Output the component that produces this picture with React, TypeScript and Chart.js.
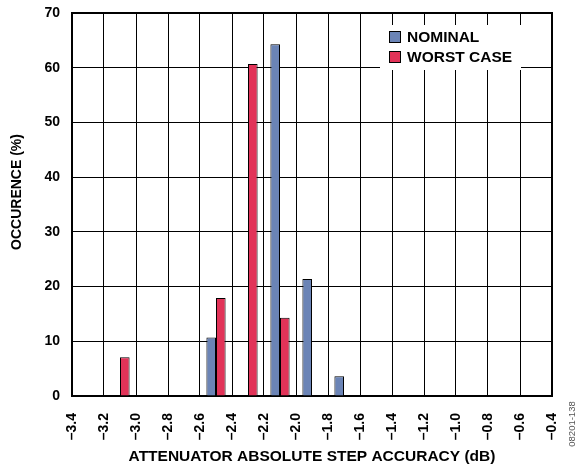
import React, { useEffect, useRef } from "react";
import { Chart, registerables } from "chart.js";

Chart.register(...registerables);

const binCenters = [-3.1, -2.5, -2.3, -2.1, -1.9, -1.7];
const nominal = [0, 10.7, 0, 64.3, 21.4, 3.6];
const worstCase = [7.1, 17.9, 60.7, 14.3, 0, 0];
const seriesNames = ["NOMINAL", "WORST CASE"];
const seriesColors = ["#6b84b6", "#e23358"];
const xTitle = "ATTENUATOR ABSOLUTE STEP ACCURACY (dB)";
const yTitle = "OCCURENCE (%)";
const figureNote = "08201-138";

const FONT = '"Liberation Sans", Arial, Helvetica, sans-serif';

const toPoints = (vals: number[]) =>
  binCenters
    .map((x, i) => ({ x, y: vals[i] }))
    .filter((p) => p.y > 0);

const fmt = (v: number) => {
  const a = Math.abs(v).toFixed(1);
  return v < -1e-9 ? "\u2013" + a : a;
};

const decorPlugin = {
  id: "decor",
  beforeDatasetsDraw(chart: any) {
    const { ctx, chartArea } = chart;
    ctx.save();
    ctx.strokeStyle = "#000";
    ctx.lineWidth = 2;
    ctx.strokeRect(
      chartArea.left,
      chartArea.top,
      chartArea.right - chartArea.left,
      chartArea.bottom - chartArea.top
    );
    ctx.restore();
  },
  afterDraw(chart: any) {
    const { ctx } = chart;
    ctx.save();
    // legend box
    ctx.fillStyle = "#fff";
    ctx.fillRect(380, 25, 141, 45);
    ctx.font = "bold 15.5px " + FONT;
    ctx.textBaseline = "middle";
    ctx.textAlign = "left";
    const ys = [37, 57];
    seriesNames.forEach((name, i) => {
      ctx.fillStyle = seriesColors[i];
      ctx.fillRect(389.5, ys[i] - 5.5, 11, 11);
      ctx.strokeStyle = "#000";
      ctx.lineWidth = 1;
      ctx.strokeRect(389.5, ys[i] - 5.5, 11, 11);
      ctx.fillStyle = "#000";
      ctx.fillText(name, 407, ys[i] + 0.5);
    });
    // y title
    ctx.save();
    ctx.translate(17, 192);
    ctx.rotate(-Math.PI / 2);
    ctx.font = "bold 14px " + FONT;
    ctx.textAlign = "center";
    ctx.textBaseline = "middle";
    ctx.fillStyle = "#000";
    ctx.fillText(yTitle, 0, 0);
    ctx.restore();
    // figure note
    ctx.save();
    ctx.translate(572, 424);
    ctx.rotate(-Math.PI / 2);
    ctx.font = "9.5px " + FONT;
    ctx.textAlign = "center";
    ctx.textBaseline = "middle";
    ctx.fillStyle = "#555";
    ctx.fillText(figureNote, 0, 0);
    ctx.restore();
    ctx.restore();
  },
};

export default function App() {
  const ref = useRef<HTMLCanvasElement | null>(null);
  useEffect(() => {
    if (!ref.current) return;
    const chart = new Chart(ref.current, {
      type: "bar",
      data: {
        datasets: [
          {
            label: seriesNames[0],
            data: toPoints(nominal) as any,
            backgroundColor: seriesColors[0],
            borderColor: "#000",
            borderWidth: 1,
          },
          {
            label: seriesNames[1],
            data: toPoints(worstCase) as any,
            backgroundColor: seriesColors[1],
            borderColor: "#000",
            borderWidth: 1,
          },
        ],
      },
      options: {
        responsive: false,
        animation: false,
        devicePixelRatio: 1,
        categoryPercentage: 0.6,
        barPercentage: 1,
        layout: { padding: { top: 13, right: 25, left: 0, bottom: 0 } },
        plugins: {
          legend: { display: false },
          tooltip: { enabled: false },
        },
        scales: {
          x: {
            type: "linear",
            min: -3.4,
            max: -0.4,
            offset: false,
            grid: { color: "#000", lineWidth: 1, drawTicks: false, offset: false },
            border: { display: true, color: "#000", width: 2 },
            ticks: {
              stepSize: 0.2,
              minRotation: 90,
              maxRotation: 90,
              padding: 17,
              color: "#000",
              font: { family: FONT, size: 14, weight: "bold" },
              callback: (v: any) => fmt(Number(v)),
            },
            title: {
              display: true,
              text: xTitle,
              color: "#000",
              font: { family: FONT, size: 15.5, weight: "bold" },
              padding: { top: 0, bottom: 4 },
            },
            afterFit: (s: any) => {
              s.height = 74;
              s.paddingLeft = 0;
              s.paddingRight = 0;
            },
          } as any,
          y: {
            min: 0,
            max: 70,
            grid: { color: "#000", lineWidth: 1, drawTicks: false },
            border: { display: true, color: "#000", width: 2 },
            ticks: {
              stepSize: 10,
              padding: 12,
              color: "#000",
              font: { family: FONT, size: 14, weight: "bold" },
            },
            afterFit: (s: any) => {
              s.width = 72;
              s.paddingTop = 0;
              s.paddingBottom = 0;
            },
          } as any,
        },
      },
      plugins: [decorPlugin],
    });
    return () => chart.destroy();
  }, []);
  return (
    <div style={{ position: "fixed", left: 0, top: 0, width: 577, height: 470, background: "#fff" }}>
      <canvas ref={ref} width={577} height={470} style={{ display: "block" }} />
    </div>
  );
}
